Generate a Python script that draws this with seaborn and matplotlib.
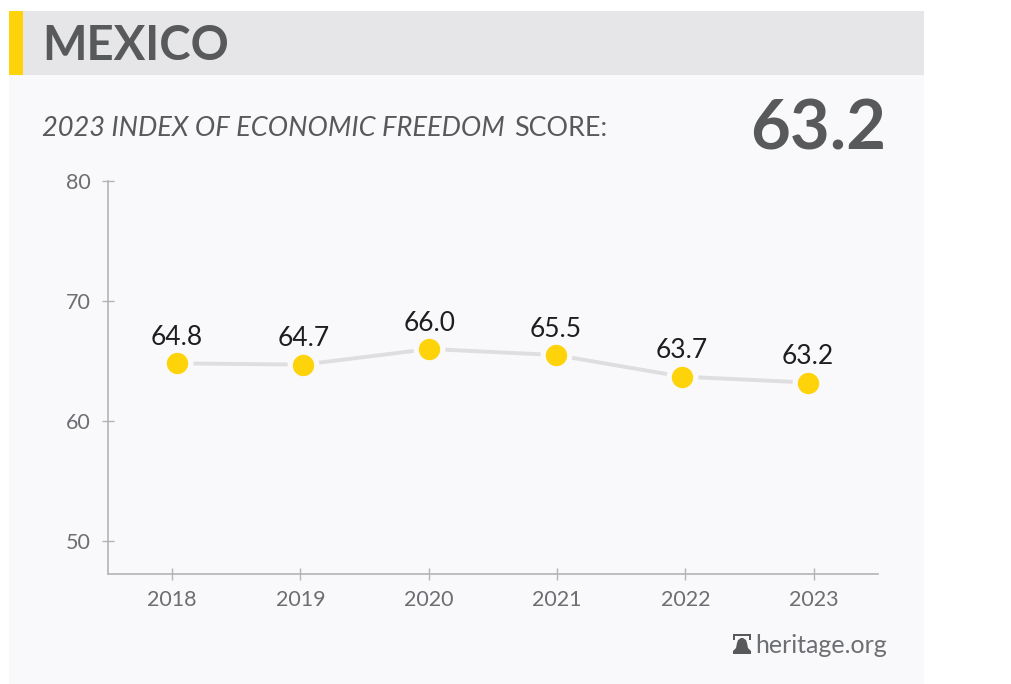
import seaborn as sns
import matplotlib.pyplot as plt
from matplotlib.patches import Rectangle, Polygon

# Values
years = [2018, 2019, 2020, 2021, 2022, 2023]
scores = [64.8, 64.7, 66.0, 65.5, 63.7, 63.2]
y_ticks = [50, 60, 70, 80]
country = 'MEXICO'
current_score = '63.2'

yellow = '#FFD30A'
dark = '#58595B'
grey = '#6D6E71'
axis_grey = '#B4B4B6'
panel = '#F9F9FB'

sns.set_theme(style='white')
plt.rcParams['font.family'] = ['Lato', 'DejaVu Sans']

fig = plt.figure(figsize=(10.11, 6.84), dpi=100, facecolor='white')

# Background layer in pixel coordinates
bg = fig.add_axes([0, 0, 1, 1])
bg.set_xlim(0, 1011)
bg.set_ylim(684, 0)
bg.axis('off')
bg.add_patch(Rectangle((9, 75), 915, 609, color=panel, lw=0))
bg.add_patch(Rectangle((9, 11), 915, 64, color='#E6E6E8', lw=0))
bg.add_patch(Rectangle((9, 11), 14, 64, color=yellow, lw=0))
bg.text(42, 60, country, fontsize=34, fontweight='bold', color=dark, va='baseline')
bg.text(42, 136, '2023 INDEX OF ECONOMIC FREEDOM', fontsize=19.6, style='italic',
        color=dark, va='baseline')
bg.text(514, 136, 'SCORE:', fontsize=19.4, color=dark, va='baseline')
bg.text(886, 150, current_score, fontsize=49.5, fontweight='bold', color=dark,
        ha='right', va='baseline')
bg.text(887, 653, 'heritage.org', fontsize=18, color=grey, ha='right', va='baseline')

# Small bell logo next to the source
bg.add_patch(Polygon([(733, 654), (733, 651), (736, 648), (737, 643), (738, 640), (741, 638),
                      (743, 638), (746, 640), (747, 643), (748, 648), (751, 651), (751, 654)],
                     closed=True, color=dark, lw=0))
bg.add_patch(Polygon([(733, 634), (751, 634), (751, 640), (749, 640), (749, 636), (735, 636),
                      (735, 640), (733, 640)], closed=True, color=dark, lw=0))

# Axis with the tick marks
ax = fig.add_axes([108 / 1011, (684 - 574) / 684, 770 / 1011, 393 / 684])
ax.patch.set_alpha(0)
ax.set_xlim(2017.5, 2023.5)
ax.set_ylim(47.25, 80)
ax.set_xticks(years)
ax.set_yticks(y_ticks)
ax.tick_params(axis='both', direction='inout', length=8.5, width=1, color=axis_grey,
               labelcolor=grey, labelsize=15.5, bottom=True, left=True)
ax.tick_params(axis='x', pad=7)
ax.tick_params(axis='y', pad=8.5)
sns.despine(ax=ax)
for side in ['left', 'bottom']:
    ax.spines[side].set_color(axis_grey)
    ax.spines[side].set_linewidth(1.2)

# The points sit on a slightly narrower band than the ticks
ax2 = ax.twiny()
ax2.patch.set_alpha(0)
ax2.set_xlim(2017.453, 2023.555)
ax2.set_ylim(47.25, 80)
sns.lineplot(x=years, y=scores, ax=ax2, color='#DEDEE0', linewidth=2.8, marker='o',
             markersize=19.2, markerfacecolor=yellow, markeredgecolor=panel,
             markeredgewidth=3.8)
ax2.axis('off')

for year, score in zip(years, scores):
    ax2.annotate(f'{score:.1f}', (year, score), xytext=(0, 9.5), textcoords='offset points',
                 ha='center', va='bottom', fontsize=19, color='#1E1E1E')

fig.savefig('out.png', dpi=100)
plt.close(fig)
